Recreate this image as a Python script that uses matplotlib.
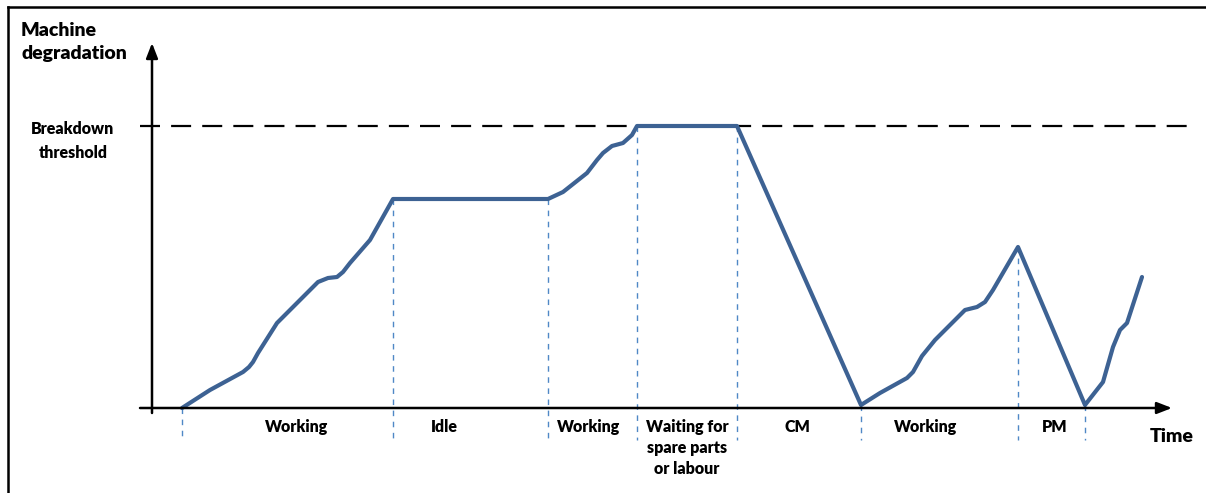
import matplotlib
matplotlib.use("Agg")
import matplotlib.pyplot as plt
from matplotlib.lines import Line2D

plt.rcParams['font.family'] = ['Lato', 'DejaVu Sans']

# Degradation curve (time, degradation) in arbitrary units
time = [30, 58, 91, 97, 101, 106, 125, 141, 166, 176, 185, 191, 198, 218, 241,
        396, 411, 435, 445, 451, 460, 471, 480, 485,
        585, 709,
        728, 755, 761, 770, 783, 798, 813, 825, 833, 841, 866,
        933, 951, 961, 968, 975, 990]
degr = [0, 18, 36, 41, 46, 55, 85, 101, 126, 130, 131, 136, 145, 168, 209,
        209, 216, 235, 248, 255, 262, 265, 273, 282,
        282, 3,
        15, 30, 36, 52, 68, 83, 98, 101, 106, 118, 161,
        3, 26, 61, 78, 85, 131]

threshold = 282
phase_bounds = [30, 241, 396, 485, 585, 709, 866, 933]
phase_labels = ["Working", "Idle", "Working", "Waiting for\nspare parts\nor labour",
                "CM", "Working", "PM"]
phase_centers = [145, 292, 437, 535, 645, 774, 903]

fig = plt.figure(figsize=(12.06, 4.93), dpi=100)
ax = fig.add_axes([0, 0, 1, 1])
ax.set_xlim(-152, 1206 - 152)
ax.set_ylim(-(493 - 408), 408)
ax.axis('off')

# frame lines (top and left)
fig.add_artist(Line2D([8/1206, 1], [1 - 7/493, 1 - 7/493], transform=fig.transFigure,
                      color='black', lw=1.8))
fig.add_artist(Line2D([8/1206, 8/1206], [0, 1 - 7/493], transform=fig.transFigure,
                      color='black', lw=1.8))

# axes arrows
ax.annotate('', xy=(0, 365), xytext=(0, -5),
            arrowprops=dict(arrowstyle='-|>,head_length=0.9,head_width=0.35', color='black', lw=1.8,
                            shrinkA=0, shrinkB=0))
ax.annotate('', xy=(1020, 0), xytext=(-12, 0),
            arrowprops=dict(arrowstyle='-|>,head_length=0.9,head_width=0.35', color='black', lw=1.8,
                            shrinkA=0, shrinkB=0))

# threshold
ax.plot([-12, 1038], [threshold, threshold], color='black', lw=1.6, dashes=(9, 5))

# phase boundaries
yi = dict(zip(time, degr))
for xb in phase_bounds:
    top = yi.get(xb, 0)
    ax.plot([xb, xb], [top, -32], color='#4F88C6', lw=1.0, dashes=(4, 4))

# curve
ax.plot(time, degr, color='#3D6293', lw=3.0, solid_joinstyle='round', solid_capstyle='round')

# phase labels
for c, lab in zip(phase_centers, phase_labels):
    ax.text(c, -11, lab, ha='center', va='top', fontsize=11.5, fontweight='heavy',
            linespacing=1.4)

ax.text(1020, -28, 'Time', ha='center', va='center', fontsize=14, fontweight='heavy')
ax.text(-131, 366, 'Machine\ndegradation', ha='left', va='center', fontsize=14,
        fontweight='heavy', linespacing=1.5)
ax.text(-79, 267, 'Breakdown\nthreshold', ha='center', va='center', fontsize=11.5,
        fontweight='heavy', linespacing=1.6, multialignment='center')

fig.savefig('out.png', dpi=100)
